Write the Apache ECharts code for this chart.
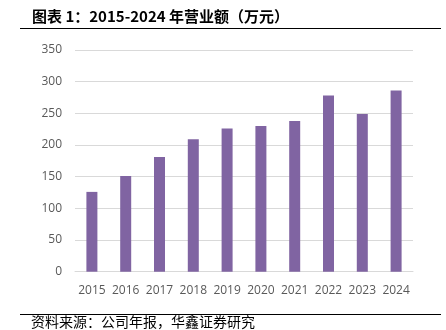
<!DOCTYPE html>
<html><head><meta charset="utf-8">
<script src="https://cdn.jsdelivr.net/npm/echarts@6/dist/echarts.min.js"></script>
<style>html,body{margin:0;padding:0;background:#fff}#c{width:446px;height:330px}</style>
</head><body><div id="c"></div>
<script>
const categories = ['2015','2016','2017','2018','2019','2020','2021','2022','2023','2024'];
const revenue = [126, 151, 181, 209, 226, 230, 238, 278, 249, 286];
const yTicks = [0, 50, 100, 150, 200, 250, 300, 350];
const titleText = '图表 1：2015-2024 年营业额（万元）';
const sourceText = '资料来源：公司年报，华鑫证券研究';

const chart = echarts.init(document.getElementById('c'), null, {renderer: 'canvas'});
chart.setOption({
  animation: false,
  backgroundColor: '#fff',
  graphic: [
    {type: 'text', left: 32, top: 9, style: {text: titleText, font: 'bold 15px "Noto Sans CJK SC"', fill: '#000'}},
    {type: 'text', left: 31, top: 315, style: {text: sourceText, font: '14px "Noto Sans CJK SC"', fill: '#000', textVerticalAlign: 'top'}},
    {type: 'line', shape: {x1: 20, y1: 28.5, x2: 441, y2: 28.5}, style: {stroke: '#000', lineWidth: 1}},
    {type: 'line', shape: {x1: 20, y1: 314.5, x2: 441, y2: 314.5}, style: {stroke: '#000', lineWidth: 1}}
  ],
  grid: {left: 75, right: 33, top: 50, bottom: 58.3, containLabel: false},
  xAxis: {
    type: 'category', data: categories,
    axisLine: {show: true, lineStyle: {color: '#d9d9d9'}},
    axisTick: {show: false},
    axisLabel: {color: '#595959', fontFamily: 'Open Sans', fontSize: 12, margin: 13, interval: 0, hideOverlap: false}
  },
  yAxis: {
    type: 'value', min: 0, max: 350, interval: 50,
    axisLine: {show: false}, axisTick: {show: false},
    splitLine: {lineStyle: {color: '#d9d9d9'}},
    axisLabel: {color: '#595959', fontFamily: 'Open Sans', fontSize: 12, margin: 13,
      formatter: v => yTicks.includes(v) ? String(v) : ''}
  },
  series: [{
    type: 'bar', data: revenue, barWidth: 11,
    itemStyle: {color: '#8064a2'}
  }]
});
</script></body></html>
